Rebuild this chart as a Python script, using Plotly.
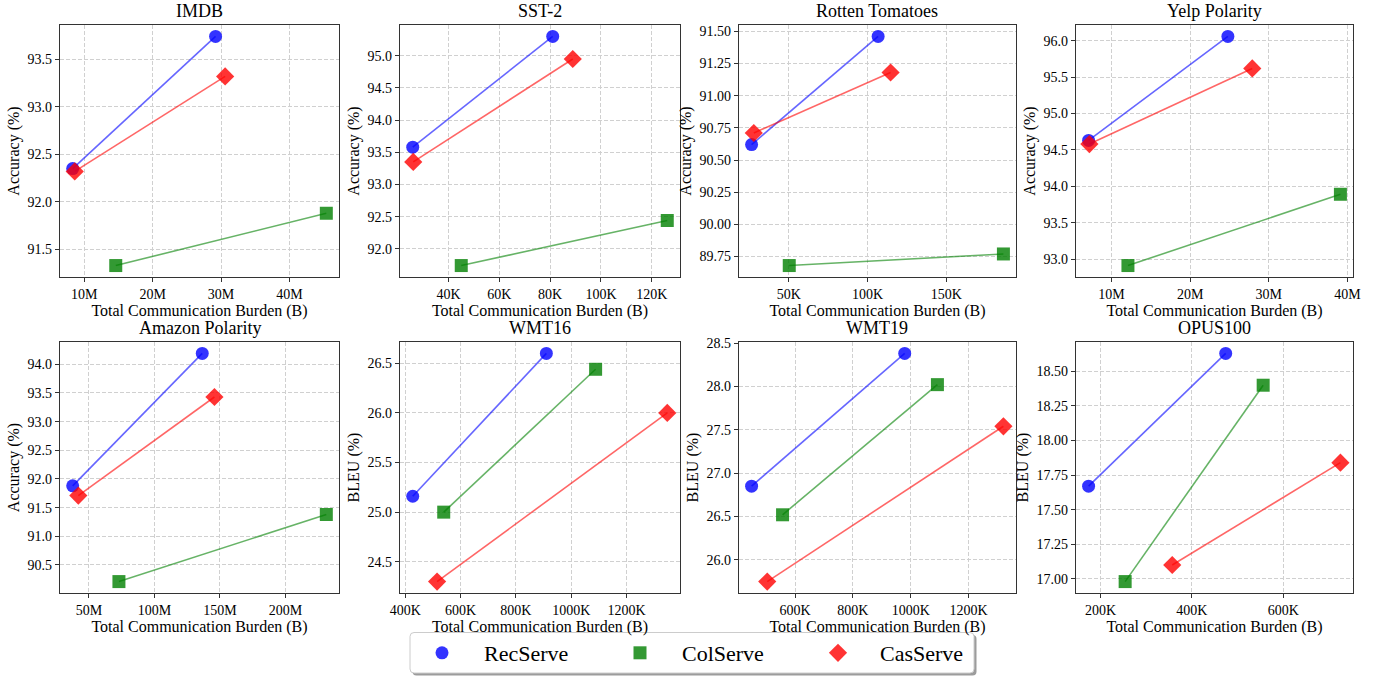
import plotly.graph_objects as go
from plotly.subplots import make_subplots

# ---------------- data ----------------
panel_titles = ["IMDB", "SST-2", "Rotten Tomatoes", "Yelp Polarity",
                "Amazon Polarity", "WMT16", "WMT19", "OPUS100"]
y_titles = ["Accuracy (%)"] * 5 + ["BLEU (%)"] * 3
series_names = ["RecServe", "ColServe", "CasServe"]

imdb_rec_x = [8.3e6, 29.2e6];   imdb_rec_y = [92.35, 93.74]
imdb_col_x = [14.6e6, 45.4e6];  imdb_col_y = [91.33, 91.88]
imdb_cas_x = [8.6e6, 30.6e6];   imdb_cas_y = [92.32, 93.32]

sst2_rec_x = [25.9e3, 81.0e3];  sst2_rec_y = [93.58, 95.30]
sst2_col_x = [45.0e3, 126.1e3]; sst2_col_y = [91.74, 92.44]
sst2_cas_x = [26.1e3, 88.9e3];  sst2_cas_y = [93.35, 94.95]

rt_rec_x = [26.4e3, 106.7e3];   rt_rec_y = [90.62, 91.46]
rt_col_x = [50.3e3, 186.2e3];   rt_col_y = [89.68, 89.77]
rt_cas_x = [27.8e3, 114.6e3];   rt_cas_y = [90.71, 91.18]

yelp_rec_x = [7.1e6, 24.8e6];   yelp_rec_y = [94.63, 96.06]
yelp_col_x = [12.1e6, 39.1e6];  yelp_col_y = [92.91, 93.89]
yelp_cas_x = [7.2e6, 27.9e6];   yelp_cas_y = [94.58, 95.62]

amz_rec_x = [37.6e6, 136.5e6];  amz_rec_y = [91.88, 94.19]
amz_col_x = [72.9e6, 231.2e6];  amz_col_y = [90.21, 91.38]
amz_cas_x = [41.9e6, 145.8e6];  amz_cas_y = [91.71, 93.43]

wmt16_rec_x = [427e3, 910e3];   wmt16_rec_y = [25.16, 26.60]
wmt16_col_x = [539e3, 1088e3];  wmt16_col_y = [25.00, 26.44]
wmt16_cas_x = [515e3, 1347e3];  wmt16_cas_y = [24.30, 26.00]

wmt19_rec_x = [450e3, 979e3];   wmt19_rec_y = [26.85, 28.38]
wmt19_col_x = [557e3, 1092e3];  wmt19_col_y = [26.52, 28.02]
wmt19_cas_x = [504e3, 1320e3];  wmt19_cas_y = [25.75, 27.54]

opus_rec_x = [174e3, 474e3];    opus_rec_y = [17.67, 18.63]
opus_col_x = [254e3, 556e3];    opus_col_y = [16.98, 18.40]
opus_cas_x = [357e3, 725e3];    opus_cas_y = [17.10, 17.84]

# tick values / labels
imdb_xt = [10e6, 20e6, 30e6, 40e6];   imdb_xl = ["10M", "20M", "30M", "40M"]
sst2_xt = [40e3, 60e3, 80e3, 100e3, 120e3]; sst2_xl = ["40K", "60K", "80K", "100K", "120K"]
rt_xt = [50e3, 100e3, 150e3];         rt_xl = ["50K", "100K", "150K"]
yelp_xt = [10e6, 20e6, 30e6, 40e6];   yelp_xl = ["10M", "20M", "30M", "40M"]
amz_xt = [50e6, 100e6, 150e6, 200e6]; amz_xl = ["50M", "100M", "150M", "200M"]
wmt16_xt = [400e3, 600e3, 800e3, 1000e3, 1200e3]; wmt16_xl = ["400K", "600K", "800K", "1000K", "1200K"]
wmt19_xt = [600e3, 800e3, 1000e3, 1200e3]; wmt19_xl = ["600K", "800K", "1000K", "1200K"]
opus_xt = [200e3, 400e3, 600e3];      opus_xl = ["200K", "400K", "600K"]

imdb_yt = [91.5, 92.0, 92.5, 93.0, 93.5]
sst2_yt = [92.0, 92.5, 93.0, 93.5, 94.0, 94.5, 95.0]
rt_yt = [89.75, 90.00, 90.25, 90.50, 90.75, 91.00, 91.25, 91.50]
yelp_yt = [93.0, 93.5, 94.0, 94.5, 95.0, 95.5, 96.0]
amz_yt = [90.0, 90.5, 91.0, 91.5, 92.0, 92.5, 93.0, 93.5, 94.0]
wmt16_yt = [24.5, 25.0, 25.5, 26.0, 26.5]
wmt19_yt = [26.0, 26.5, 27.0, 27.5, 28.0, 28.5]
opus_yt = [17.00, 17.25, 17.50, 17.75, 18.00, 18.25, 18.50]
y_formats = [".1f", ".1f", ".2f", ".1f", ".1f", ".1f", ".1f", ".2f"]

panels = [
    ([imdb_rec_x, imdb_col_x, imdb_cas_x], [imdb_rec_y, imdb_col_y, imdb_cas_y], imdb_xt, imdb_xl, imdb_yt),
    ([sst2_rec_x, sst2_col_x, sst2_cas_x], [sst2_rec_y, sst2_col_y, sst2_cas_y], sst2_xt, sst2_xl, sst2_yt),
    ([rt_rec_x, rt_col_x, rt_cas_x], [rt_rec_y, rt_col_y, rt_cas_y], rt_xt, rt_xl, rt_yt),
    ([yelp_rec_x, yelp_col_x, yelp_cas_x], [yelp_rec_y, yelp_col_y, yelp_cas_y], yelp_xt, yelp_xl, yelp_yt),
    ([amz_rec_x, amz_col_x, amz_cas_x], [amz_rec_y, amz_col_y, amz_cas_y], amz_xt, amz_xl, amz_yt),
    ([wmt16_rec_x, wmt16_col_x, wmt16_cas_x], [wmt16_rec_y, wmt16_col_y, wmt16_cas_y], wmt16_xt, wmt16_xl, wmt16_yt),
    ([wmt19_rec_x, wmt19_col_x, wmt19_cas_x], [wmt19_rec_y, wmt19_col_y, wmt19_cas_y], wmt19_xt, wmt19_xl, wmt19_yt),
    ([opus_rec_x, opus_col_x, opus_cas_x], [opus_rec_y, opus_col_y, opus_cas_y], opus_xt, opus_xl, opus_yt),
]

# ---------------- style ----------------
W, H = 1377, 677
FONT = "Liberation Serif"
line_colors = ["rgba(0,0,255,0.6)", "rgba(0,128,0,0.6)", "rgba(255,0,0,0.6)"]
marker_colors = ["rgba(0,0,255,0.8)", "rgba(0,128,0,0.8)", "rgba(255,0,0,0.8)"]
symbols = ["circle", "square", "diamond"]
sizes = [13, 13, 14]

col_px = [(60, 339), (400, 680), (739, 1016), (1076, 1353)]
row_px = [(25, 277), (342, 593)]

fig = make_subplots(rows=2, cols=4)

for i, (xs, ys, xt, xl, yt) in enumerate(panels):
    r, c = i // 4 + 1, i % 4 + 1
    for k in range(3):
        fig.add_trace(go.Scatter(x=xs[k], y=ys[k], mode="lines",
                                 line=dict(color=line_colors[k], width=1.6),
                                 showlegend=False, hoverinfo="skip"), row=r, col=c)
    for k in range(3):
        fig.add_trace(go.Scatter(x=xs[k], y=ys[k], mode="markers",
                                 marker=dict(symbol=symbols[k], size=sizes[k],
                                             color=marker_colors[k], line=dict(width=0)),
                                 name=series_names[k], legendgroup=series_names[k],
                                 showlegend=(i == 0)), row=r, col=c)
    allx = [v for s in xs for v in s]
    ally = [v for s in ys for v in s]
    dx = (max(allx) - min(allx)) * 0.05
    dy = (max(ally) - min(ally)) * 0.05
    x0, x1 = col_px[c - 1]
    y0, y1 = row_px[r - 1]
    axis_common = dict(showline=True, mirror=True, linecolor="#333", linewidth=1.3,
                       ticks="outside", ticklen=4, tickcolor="#333", automargin=True,
                       showgrid=True, gridcolor="#d0d0d0", griddash="4px,2px", gridwidth=0.8,
                       zeroline=False, tickfont=dict(family=FONT, size=14, color="black"))
    fig.update_xaxes(domain=[x0 / W, x1 / W], range=[min(allx) - dx, max(allx) + dx],
                     tickvals=xt, ticktext=xl,
                     title=dict(text="Total Communication Burden (B)", standoff=1,
                                font=dict(family=FONT, size=16, color="black")),
                     row=r, col=c, **axis_common)
    fig.update_yaxes(domain=[1 - y1 / H, 1 - y0 / H], range=[min(ally) - dy, max(ally) + dy],
                     tickvals=yt, tickformat=y_formats[i],
                     title=dict(text=y_titles[i], standoff=3,
                                font=dict(family=FONT, size=16, color="black")),
                     row=r, col=c, **axis_common)
    fig.add_annotation(text=panel_titles[i], x=(x0 + x1) / 2 / W, y=1 - y0 / H,
                       xref="paper", yref="paper", xanchor="center", yanchor="bottom",
                       yshift=2, showarrow=False,
                       font=dict(family=FONT, size=18, color="black"))

# legend frame with shadow (drawn as shapes, legend entries by plotly)
def rounded_rect(x0, y0, x1, y1, rad):
    px = lambda v: v / W
    py = lambda v: 1 - v / H
    return (f"M {px(x0 + rad)},{py(y0)} L {px(x1 - rad)},{py(y0)} "
            f"Q {px(x1)},{py(y0)} {px(x1)},{py(y0 + rad)} L {px(x1)},{py(y1 - rad)} "
            f"Q {px(x1)},{py(y1)} {px(x1 - rad)},{py(y1)} L {px(x0 + rad)},{py(y1)} "
            f"Q {px(x0)},{py(y1)} {px(x0)},{py(y1 - rad)} L {px(x0)},{py(y0 + rad)} "
            f"Q {px(x0)},{py(y0)} {px(x0 + rad)},{py(y0)} Z")

fig.add_shape(type="path", xref="paper", yref="paper",
              path=rounded_rect(412.5, 635, 976.5, 675.5, 4),
              fillcolor="#9c9c9c", line=dict(width=0), layer="above")
fig.add_shape(type="path", xref="paper", yref="paper",
              path=rounded_rect(410, 632.5, 974, 673, 4),
              fillcolor="white", line=dict(color="#cccccc", width=1), layer="above")

fig.update_layout(
    width=W, height=H,
    margin=dict(l=0, r=0, t=0, b=0, autoexpand=False),
    paper_bgcolor="white", plot_bgcolor="white",
    font=dict(family=FONT, color="black"),
    legend=dict(orientation="h", x=400 / W, y=1 - 632 / H, xanchor="left", yanchor="top",
                font=dict(family=FONT, size=22, color="black"),
                bgcolor="rgba(0,0,0,0)", borderwidth=0,
                itemwidth=74, entrywidth=109, entrywidthmode="pixels", itemsizing="trace"),
)

fig.write_html("out.html", config={"displayModeBar": False},
               post_script="document.body.style.margin='0px';")
